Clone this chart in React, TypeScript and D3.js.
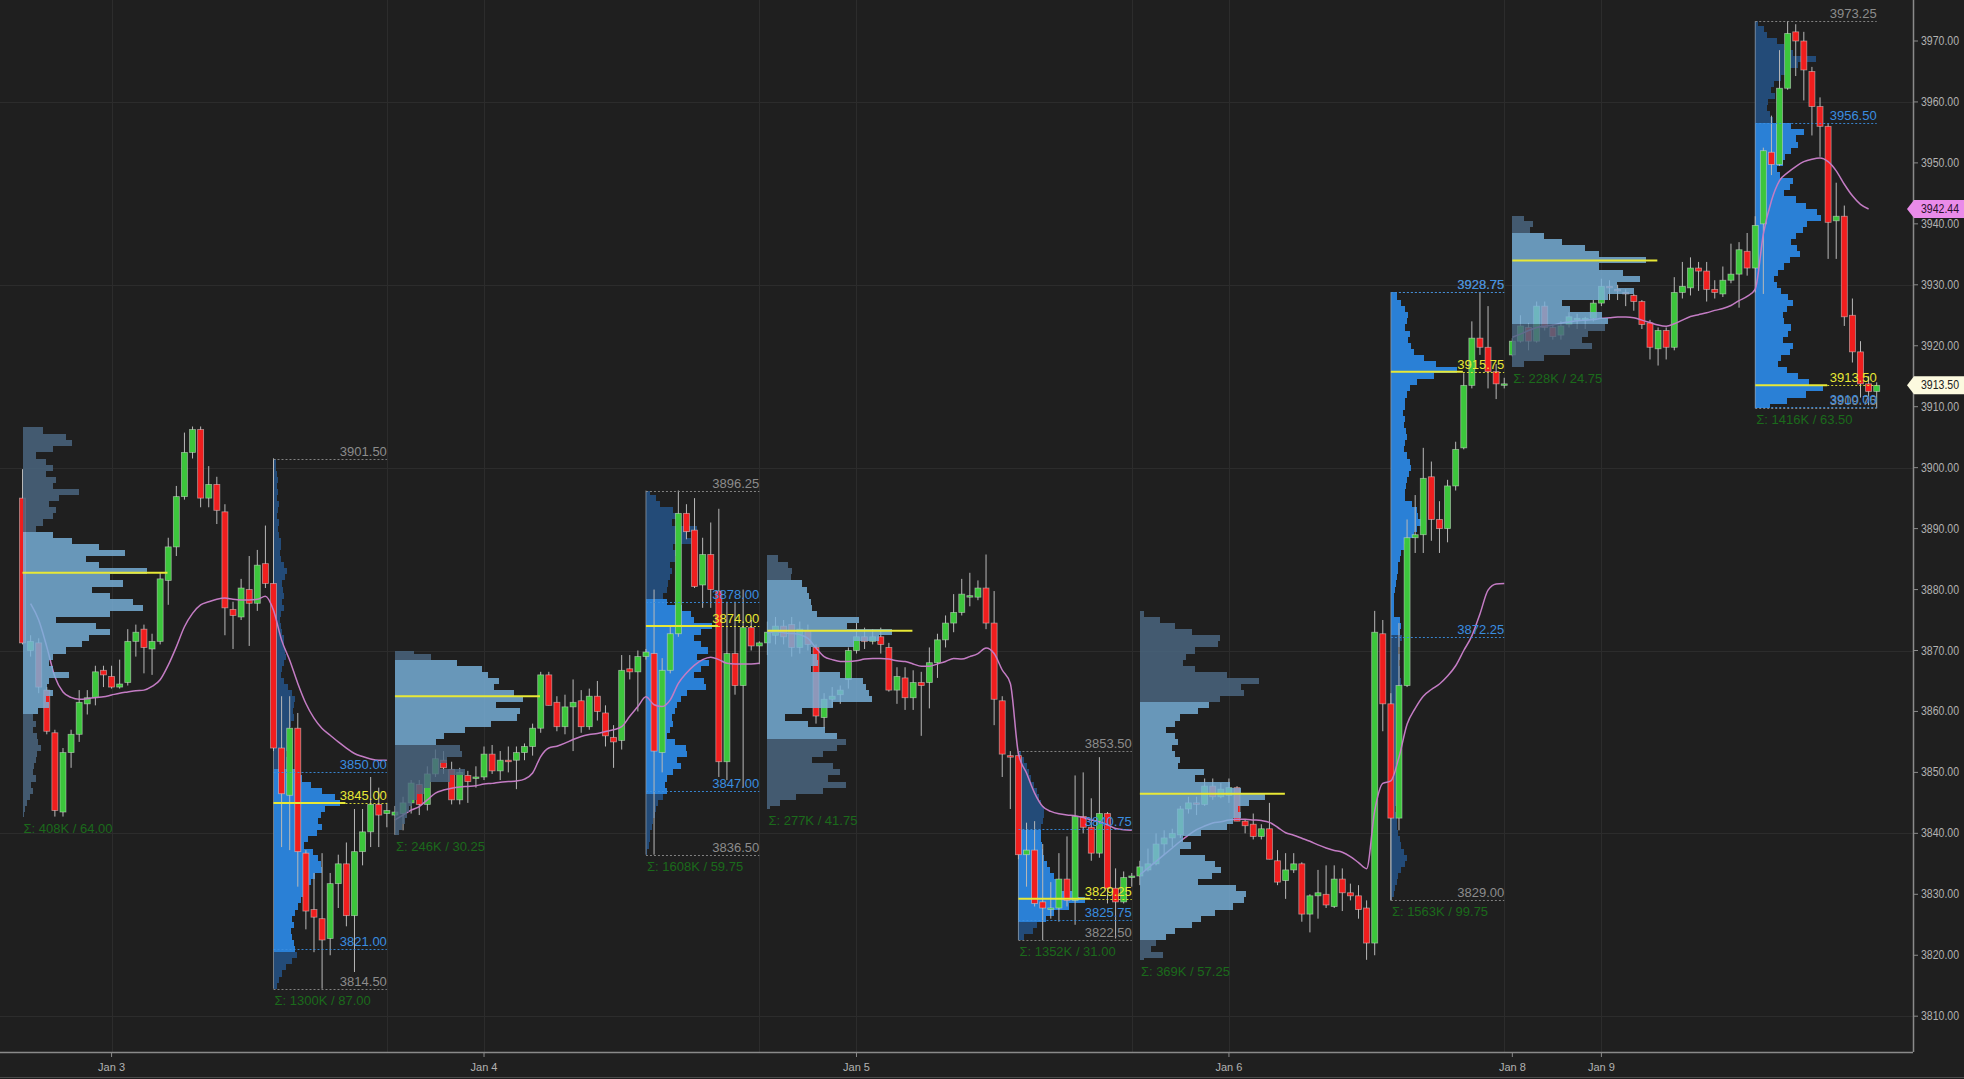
import { useEffect, useRef } from 'react'
import * as d3 from 'd3'

const W = 1964, H = 1079
const AXIS_X = 1913, AXIS_Y = 1052
const FONT = 'Liberation Sans, Arial, sans-serif'

type Bar = [number, number, number, number] // open, high, low, close

// Jan 3 (ETH bars 0-30, RTH 31-45)
const day1: Bar[] = [
  [3895.0, 3899.75, 3871.0, 3871.25], [3870.0, 3872.5, 3869.0, 3871.5], [3871.25, 3872.0, 3863.0, 3864.0],
  [3863.5, 3864.0, 3856.25, 3856.75], [3856.5, 3857.0, 3842.75, 3843.75], [3843.5, 3854.0, 3842.75, 3853.25],
  [3853.25, 3857.0, 3850.75, 3856.25], [3856.25, 3863.5, 3855.0, 3861.5], [3861.25, 3863.5, 3859.5, 3862.25],
  [3862.25, 3867.5, 3861.0, 3866.5], [3866.75, 3867.5, 3864.0, 3866.0], [3865.75, 3867.5, 3863.75, 3864.0],
  [3864.0, 3868.5, 3863.75, 3864.5], [3864.75, 3873.5, 3864.25, 3871.5], [3871.5, 3874.25, 3869.0, 3873.0],
  [3873.5, 3874.25, 3866.25, 3870.5], [3870.25, 3872.75, 3866.0, 3871.5], [3871.5, 3882.75, 3871.0, 3881.75],
  [3881.5, 3888.5, 3877.5, 3887.0], [3887.0, 3897.0, 3885.5, 3895.25], [3895.25, 3905.75, 3894.75, 3902.5],
  [3902.5, 3906.75, 3901.5, 3906.25], [3906.25, 3906.75, 3893.5, 3895.0], [3895.0, 3900.25, 3893.5, 3897.25],
  [3897.25, 3898.5, 3890.75, 3893.0], [3892.75, 3894.0, 3872.5, 3877.0], [3876.75, 3878.0, 3870.25, 3875.75],
  [3875.5, 3881.75, 3875.0, 3880.25], [3880.0, 3885.5, 3870.75, 3877.75], [3877.75, 3886.5, 3876.5, 3884.0],
  [3884.25, 3890.5, 3880.25, 3881.0], [3881.0, 3901.5, 3853.5, 3854.0], [3854.0, 3862.5, 3837.75, 3846.5],
  [3846.25, 3862.5, 3837.25, 3857.25], [3857.25, 3859.75, 3831.25, 3837.0], [3836.75, 3837.25, 3824.25, 3827.25],
  [3827.5, 3833.5, 3820.5, 3826.25], [3826.0, 3836.75, 3814.5, 3822.5], [3822.75, 3833.5, 3820.0, 3831.75],
  [3831.75, 3836.5, 3827.75, 3835.0], [3835.0, 3838.5, 3824.75, 3826.5], [3826.5, 3844.0, 3817.25, 3837.0],
  [3837.0, 3844.0, 3834.75, 3840.25], [3840.25, 3849.25, 3837.75, 3844.75], [3844.75, 3847.5, 3837.75, 3843.0],
  [3843.25, 3845.0, 3841.0, 3843.75],
]

// Jan 4 (bars 46-91)
const day2: Bar[] = [
  [3843.0, 3844.5, 3839.75, 3843.5], [3843.25, 3846.0, 3840.5, 3845.0], [3845.0, 3848.75, 3843.25, 3848.25],
  [3848.0, 3848.75, 3843.0, 3844.75], [3844.75, 3851.0, 3843.75, 3849.75], [3849.75, 3853.75, 3849.25, 3852.25],
  [3852.0, 3853.5, 3849.75, 3850.75], [3850.5, 3851.75, 3844.75, 3845.5], [3845.5, 3850.75, 3844.75, 3850.0],
  [3849.5, 3850.25, 3845.0, 3848.5], [3849.0, 3851.0, 3847.5, 3849.25], [3849.25, 3854.25, 3848.75, 3853.0],
  [3853.0, 3854.5, 3849.75, 3850.25], [3850.25, 3853.5, 3848.75, 3852.0], [3852.0, 3854.25, 3850.0, 3851.75],
  [3852.0, 3854.25, 3847.25, 3853.25], [3853.25, 3854.75, 3852.0, 3854.25], [3854.25, 3858.0, 3852.75, 3857.25],
  [3857.25, 3866.5, 3856.5, 3866.0], [3866.0, 3866.5, 3861.0, 3861.0], [3861.5, 3862.5, 3856.75, 3857.5],
  [3857.5, 3862.75, 3856.25, 3860.75], [3860.75, 3865.25, 3853.5, 3861.5], [3861.75, 3863.5, 3856.5, 3857.5],
  [3857.5, 3863.75, 3857.0, 3862.5], [3862.5, 3865.0, 3858.5, 3860.0], [3859.75, 3861.0, 3854.25, 3856.0],
  [3855.75, 3857.75, 3850.75, 3855.0], [3855.25, 3869.25, 3853.75, 3866.75], [3867.0, 3869.25, 3865.25, 3866.5],
  [3866.5, 3870.0, 3860.0, 3869.0], [3869.0, 3870.25, 3868.5, 3869.75], [3869.5, 3880.0, 3836.5, 3853.5],
  [3853.25, 3868.75, 3850.0, 3866.75], [3866.75, 3874.0, 3866.25, 3872.75], [3872.75, 3896.25, 3872.25, 3892.5],
  [3892.5, 3894.0, 3888.25, 3889.5], [3889.75, 3895.0, 3880.25, 3880.5], [3880.75, 3888.5, 3877.0, 3885.75],
  [3885.75, 3891.0, 3877.0, 3880.0], [3879.75, 3893.25, 3849.25, 3851.75], [3851.75, 3878.0, 3848.75, 3869.5],
  [3869.5, 3878.0, 3862.75, 3864.25], [3864.25, 3880.0, 3847.5, 3873.75], [3873.75, 3875.0, 3870.0, 3870.75],
  [3870.75, 3871.5, 3867.75, 3871.25],
]

// Jan 5 (bars 92-137)
const day3: Bar[] = [
  [3871.25, 3874.75, 3869.25, 3873.0], [3872.5, 3875.5, 3871.0, 3874.0], [3874.0, 3875.0, 3871.0, 3872.25],
  [3874.25, 3875.5, 3869.0, 3870.5], [3870.5, 3874.75, 3869.5, 3873.5], [3873.25, 3874.25, 3870.0, 3871.0],
  [3870.5, 3871.0, 3858.0, 3859.25], [3859.0, 3863.0, 3857.25, 3862.0], [3862.0, 3864.0, 3860.75, 3862.5],
  [3862.75, 3864.25, 3861.25, 3863.5], [3865.25, 3870.5, 3863.75, 3870.0], [3870.0, 3874.5, 3869.5, 3872.25],
  [3872.25, 3873.75, 3870.25, 3871.5], [3871.5, 3873.5, 3871.0, 3872.25], [3872.25, 3873.75, 3869.5, 3871.0],
  [3870.5, 3871.25, 3863.25, 3863.5], [3863.5, 3867.25, 3861.25, 3865.75], [3865.5, 3867.25, 3860.25, 3862.25],
  [3862.25, 3866.75, 3860.25, 3864.75], [3864.75, 3866.5, 3856.0, 3864.25], [3864.75, 3870.5, 3860.5, 3868.0],
  [3868.0, 3872.75, 3865.5, 3871.75], [3871.75, 3875.75, 3870.5, 3874.5], [3874.5, 3879.25, 3873.0, 3876.25],
  [3876.25, 3881.75, 3875.75, 3879.25], [3878.75, 3882.75, 3877.25, 3879.0], [3878.75, 3881.5, 3878.25, 3880.25],
  [3880.25, 3885.75, 3873.5, 3874.5], [3874.5, 3879.75, 3857.75, 3862.0], [3861.75, 3862.5, 3849.25, 3853.0],
  [3852.75, 3853.5, 3844.0, 3852.5], [3852.75, 3853.5, 3835.75, 3836.5], [3836.5, 3841.75, 3831.25, 3837.25],
  [3837.25, 3842.0, 3828.0, 3828.5], [3828.75, 3838.25, 3822.5, 3827.75], [3827.5, 3832.0, 3826.0, 3827.75],
  [3827.75, 3836.75, 3825.5, 3832.5], [3832.5, 3839.5, 3828.0, 3829.0], [3829.0, 3849.5, 3825.0, 3842.75],
  [3842.75, 3850.0, 3840.0, 3841.0], [3841.0, 3845.75, 3835.5, 3836.75], [3836.75, 3852.5, 3836.0, 3843.25],
  [3843.25, 3843.5, 3828.5, 3831.0], [3831.0, 3834.25, 3822.75, 3828.75], [3828.75, 3833.75, 3828.5, 3832.75],
  [3832.75, 3833.5, 3831.25, 3833.0],
]

// Jan 6 (bars 138-183)
const day4: Bar[] = [
  [3833.0, 3835.5, 3831.5, 3834.5], [3834.0, 3837.5, 3833.75, 3835.0], [3835.0, 3840.0, 3834.75, 3838.25],
  [3838.25, 3840.5, 3836.5, 3839.25], [3839.25, 3840.75, 3837.75, 3840.0], [3839.75, 3844.5, 3839.25, 3844.0],
  [3844.0, 3846.0, 3843.25, 3845.0], [3845.0, 3846.0, 3843.0, 3844.75], [3844.75, 3849.0, 3844.5, 3847.75],
  [3847.75, 3849.0, 3845.5, 3846.0], [3846.0, 3848.25, 3845.75, 3847.25], [3846.25, 3849.0, 3845.0, 3847.5],
  [3847.5, 3847.75, 3842.0, 3842.0], [3842.0, 3842.25, 3840.0, 3841.25], [3841.5, 3843.25, 3839.0, 3839.5],
  [3839.5, 3841.5, 3839.0, 3840.75], [3840.75, 3845.0, 3835.75, 3835.75], [3835.5, 3837.25, 3831.5, 3832.0],
  [3832.25, 3836.75, 3829.25, 3834.0], [3834.0, 3836.75, 3833.5, 3835.0], [3835.0, 3835.25, 3825.5, 3826.75],
  [3826.75, 3830.0, 3823.75, 3829.75], [3829.75, 3834.0, 3826.0, 3830.25], [3830.0, 3834.75, 3827.75, 3828.25],
  [3828.0, 3834.75, 3827.75, 3832.5], [3832.5, 3834.25, 3827.25, 3830.25], [3830.25, 3831.75, 3829.0, 3829.75],
  [3829.75, 3831.5, 3826.0, 3827.5], [3827.75, 3829.0, 3819.25, 3822.0], [3822.0, 3876.5, 3820.0, 3873.0],
  [3872.75, 3875.0, 3856.75, 3861.25], [3861.25, 3863.0, 3829.0, 3842.5], [3842.5, 3874.5, 3840.5, 3864.25],
  [3864.25, 3891.5, 3864.0, 3888.5], [3888.5, 3895.5, 3886.0, 3889.0], [3889.0, 3903.25, 3886.0, 3898.25],
  [3898.5, 3901.0, 3888.0, 3891.5], [3891.5, 3894.5, 3886.0, 3890.0], [3890.0, 3898.0, 3887.75, 3897.0],
  [3897.0, 3904.25, 3896.25, 3903.0], [3903.25, 3915.5, 3903.0, 3913.5], [3913.5, 3924.0, 3913.0, 3921.25],
  [3921.25, 3928.75, 3918.5, 3919.75], [3919.75, 3926.5, 3913.0, 3915.75], [3915.75, 3917.0, 3911.25, 3913.75],
  [3913.75, 3914.75, 3913.0, 3913.75],
]

// Jan 8 evening / Jan 9 (bars 184-229)
const day5: Bar[] = [
  [3918.5, 3921.25, 3918.25, 3920.75], [3920.75, 3925.0, 3920.5, 3923.25], [3923.0, 3923.75, 3919.25, 3920.75],
  [3920.75, 3927.25, 3920.5, 3926.5], [3926.5, 3927.25, 3922.5, 3923.0], [3923.0, 3923.5, 3921.0, 3921.5],
  [3921.75, 3924.0, 3921.0, 3923.25], [3923.5, 3925.5, 3923.0, 3924.75], [3924.5, 3925.25, 3922.75, 3924.5],
  [3924.5, 3924.75, 3922.75, 3924.5], [3924.5, 3927.5, 3924.0, 3927.0], [3927.0, 3931.0, 3926.5, 3929.75],
  [3929.75, 3930.75, 3927.5, 3929.5], [3929.25, 3930.0, 3927.5, 3929.0], [3928.75, 3929.25, 3926.5, 3928.5],
  [3928.25, 3928.5, 3925.75, 3927.25], [3927.25, 3927.5, 3922.75, 3923.5], [3923.75, 3924.25, 3917.75, 3919.75],
  [3919.5, 3923.0, 3916.75, 3922.5], [3922.5, 3923.0, 3917.75, 3919.75], [3919.75, 3931.25, 3919.25, 3928.75],
  [3928.75, 3933.75, 3927.75, 3929.75], [3929.5, 3934.5, 3928.25, 3932.75], [3932.75, 3933.75, 3929.0, 3932.25],
  [3932.25, 3933.75, 3927.25, 3929.25], [3929.25, 3930.75, 3927.75, 3928.75], [3928.5, 3933.0, 3928.0, 3930.75],
  [3930.75, 3936.75, 3930.25, 3931.75], [3931.75, 3937.0, 3926.25, 3935.75], [3935.5, 3938.5, 3931.5, 3932.75],
  [3932.75, 3941.25, 3928.75, 3939.75], [3940.0, 3952.5, 3928.5, 3952.0], [3951.75, 3957.75, 3948.0, 3949.75],
  [3949.75, 3968.5, 3949.5, 3962.25], [3962.25, 3973.25, 3962.0, 3971.25], [3971.5, 3972.75, 3964.25, 3970.0],
  [3970.0, 3971.5, 3960.25, 3965.25], [3965.0, 3965.75, 3954.5, 3959.25], [3959.25, 3960.75, 3951.0, 3956.0],
  [3956.0, 3956.5, 3934.25, 3940.25], [3940.5, 3946.75, 3934.25, 3941.25], [3941.25, 3943.0, 3923.25, 3924.75],
  [3925.0, 3927.75, 3917.25, 3919.0], [3919.0, 3920.75, 3911.5, 3913.75], [3913.75, 3915.0, 3910.25, 3912.5],
  [3912.5, 3914.0, 3909.75, 3913.5],
]

// daily VWAP, one value per bar
const vwap1 = [null, 3877.7, 3875, 3870.6, 3865.7, 3863.2, 3862.3, 3862, 3862.1, 3862.3, 3862.4, 3862.7, 3863, 3863.2, 3863.4, 3863.5, 3864.1, 3865.2, 3867.6, 3870.6, 3873.9, 3876.1, 3877.5, 3878, 3878.4, 3878.6, 3878.4, 3878.3, 3878.3, 3878.4, 3878.9, 3876.6, 3871.7, 3868.4, 3864.6, 3861.3, 3858.9, 3857.2, 3856.1, 3855, 3854, 3853.1, 3852.6, 3852.2, 3852, 3852]
const vwap2 = [3842.2, 3843, 3843.8, 3844.4, 3845.5, 3846.6, 3847.1, 3847.4, 3847.6, 3847.7, 3847.8, 3848.1, 3848.2, 3848.4, 3848.5, 3848.6, 3848.9, 3849.9, 3852.6, 3854, 3854.3, 3854.8, 3855.4, 3855.9, 3856.2, 3856.4, 3856.7, 3857, 3857.5, 3859.2, 3860.8, 3862.4, 3861.1, 3860.8, 3861.9, 3864.6, 3866.3, 3867.6, 3868.5, 3868.9, 3868.5, 3867.9, 3867.8, 3867.8, 3867.8, 3867.9]
const vwap3 = [3872.8, 3873.1, 3872.9, 3872.8, 3872.6, 3872, 3870.4, 3869, 3868.5, 3868.2, 3868.2, 3868.3, 3868.6, 3868.7, 3868.7, 3868.6, 3868.3, 3868.2, 3867.8, 3867.4, 3867.4, 3867.8, 3868.2, 3868.7, 3868.6, 3869, 3869.5, 3870.4, 3869.5, 3866.8, 3864.6, 3853.1, 3849.9, 3846.6, 3844.4, 3843.6, 3843.2, 3843, 3842.9, 3842.6, 3842.2, 3841.9, 3841.4, 3840.8, 3840.6, 3840.5]
const vwap4 = [3833.2, 3834.3, 3835.4, 3836.5, 3837.6, 3838.7, 3839.7, 3840.6, 3841.2, 3841.7, 3841.9, 3842.2, 3842.3, 3842.3, 3842.2, 3842.1, 3841.8, 3841, 3840.1, 3839.7, 3839.2, 3838.7, 3838.1, 3837.6, 3837.2, 3836.9, 3836.2, 3835.2, 3834.2, 3843.7, 3848.2, 3848.6, 3852.5, 3857.9, 3860.5, 3862.5, 3863.6, 3864.5, 3865.8, 3867.5, 3870, 3872.4, 3876, 3879.9, 3880.9, 3881]
const vwap5 = [3921.4, 3921.9, 3922.5, 3923, 3923.2, 3923.4, 3923.7, 3923.9, 3924.1, 3924.2, 3924.3, 3924.5, 3924.6, 3924.7, 3924.7, 3924.6, 3924.2, 3923.8, 3923.4, 3923.2, 3923.6, 3924.2, 3924.8, 3925.1, 3925.4, 3925.8, 3926.1, 3926.6, 3927.4, 3928.1, 3929.3, 3938.3, 3943.8, 3947.1, 3948.4, 3949.4, 3950.2, 3950.6, 3950.8, 3950.2, 3948.7, 3946.5, 3944.6, 3943.2, 3942.44, null]

// volume profile rows, one per point from the session high down (relative volume)
const eth1Vol = [14, 30, 34, 21, 9, 16, 21, 16, 23, 21, 39, 25, 18, 23, 21, 14, 9, 21, 34, 53, 71, 44, 53, 86, 60, 69, 48, 60, 76, 83, 60, 23, 51, 60, 46, 41, 30, 21, 18, 21, 32, 18, 17, 21, 16, 18, 11, 7, 9, 7, 10, 11, 13, 10, 9, 8, 7, 9, 6, 7, 5, 3, 2, 1]
const rth1Vol = [3, 4, 5, 6, 5, 6, 5, 7, 6, 5, 7, 6, 8, 10, 11, 9, 10, 14, 19, 16, 12, 13, 15, 12, 14, 11, 9, 10, 12, 15, 14, 16, 18, 14, 12, 10, 14, 20, 26, 30, 28, 27, 29, 24, 22, 25, 23, 20, 18, 22, 26, 30, 40, 52, 68, 85, 92, 72, 66, 62, 68, 60, 48, 42, 55, 62, 66, 68, 58, 52, 46, 42, 38, 34, 30, 26, 28, 24, 26, 28, 30, 33, 26, 18, 12, 8, 5]
const eth2Vol = [13, 25, 43, 60, 64, 72, 68, 82, 88, 70, 86, 84, 66, 48, 34, 28, 45, 46, 36, 31, 48, 38, 24, 20, 15, 12, 10, 8, 7, 5, 3]
const rth2Vol = [5, 14, 19, 38, 43, 36, 71, 55, 62, 38, 43, 40, 33, 36, 33, 30, 29, 24, 29, 50, 62, 67, 92, 76, 67, 76, 86, 71, 88, 76, 67, 81, 84, 57, 48, 43, 40, 36, 38, 33, 29, 40, 55, 57, 43, 48, 38, 29, 26, 29, 24, 17, 14, 12, 10, 8, 6, 5, 4, 2]
const eth3Vol = [7, 14, 17, 16, 24, 27, 29, 30, 31, 34, 63, 55, 86, 77, 60, 30, 34, 35, 30, 50, 66, 68, 70, 72, 45, 24, 12, 28, 40, 48, 54, 48, 38, 31, 45, 50, 42, 54, 38, 20, 9, 2]
const rth3Vol = [3, 8, 12, 14, 18, 22, 26, 28, 32, 35, 36, 34, 31, 32, 31, 33, 34, 36, 40, 44, 50, 55, 57, 78, 92, 70, 50, 38, 26, 20, 8]
const eth4Vol = [3, 14, 24, 36, 55, 54, 38, 32, 30, 38, 60, 82, 70, 72, 55, 48, 40, 28, 24, 18, 24, 26, 22, 24, 28, 26, 44, 38, 62, 70, 86, 75, 68, 70, 64, 60, 42, 30, 35, 28, 45, 52, 56, 50, 40, 66, 73, 72, 64, 52, 42, 36, 24, 18, 11, 8, 16, 3]
const rth4Vol = [8, 14, 20, 24, 22, 20, 26, 24, 28, 32, 46, 62, 92, 60, 36, 26, 22, 20, 19, 17, 20, 18, 21, 23, 20, 18, 22, 27, 28, 25, 23, 21, 20, 19, 30, 36, 38, 42, 36, 32, 24, 18, 14, 12, 10, 10, 8, 7, 6, 5, 5, 4, 4, 12, 14, 13, 15, 12, 10, 12, 11, 13, 12, 14, 15, 13, 12, 14, 12, 10, 11, 12, 13, 10, 9, 8, 9, 10, 11, 9, 8, 7, 8, 7, 6, 7, 8, 9, 10, 12, 14, 18, 22, 20, 14, 10, 8, 6, 4, 2]
const eth5Vol = [8, 14, 12, 22, 34, 50, 60, 92, 60, 76, 88, 72, 84, 66, 34, 40, 62, 66, 64, 52, 48, 55, 40, 22, 8]
const rth5Vol = [4, 12, 16, 30, 40, 52, 84, 60, 44, 36, 26, 22, 28, 18, 16, 20, 24, 50, 68, 56, 60, 50, 42, 38, 30, 34, 52, 48, 40, 56, 70, 86, 92, 72, 66, 56, 50, 58, 62, 48, 40, 32, 26, 30, 36, 46, 52, 44, 38, 40, 50, 46, 38, 52, 48, 36, 32, 44, 60, 74, 94, 70, 44, 20]

const profileKind = ['eth', 'rth', 'eth', 'rth', 'eth', 'rth', 'eth', 'rth', 'eth', 'rth']
const profileFrom = [0, 31, 46, 77, 92, 123, 138, 169, 184, 214]
const profileTo = [30, 45, 76, 91, 122, 137, 168, 183, 213, 229]
const profileHigh = [3906.75, 3901.5, 3870.0, 3896.25, 3885.75, 3853.5, 3876.5, 3928.75, 3941.25, 3973.25]
const profileLow = [3842.75, 3814.5, 3839.75, 3836.5, 3844.0, 3822.5, 3819.25, 3829.0, 3916.5, 3909.75]
const profilePoc = [3882.75, 3845.0, 3862.5, 3874.0, 3873.25, 3829.25, 3846.5, 3915.75, 3934.0, 3913.5]
const profileVah = [3889.75, 3850.0, 3868.75, 3878.0, 3881.0, 3840.75, 3861.5, 3928.75, 3938.0, 3956.5]
const profileVal = [3859.75, 3821.0, 3854.25, 3847.0, 3855.75, 3825.75, 3822.75, 3872.25, 3923.75, 3910.0]
const profileTotal = ['408K', '1300K', '246K', '1608K', '277K', '1352K', '369K', '1563K', '228K', '1416K']
const profileVols = [eth1Vol, rth1Vol, eth2Vol, rth2Vol, eth3Vol, rth3Vol, eth4Vol, rth4Vol, eth5Vol, rth5Vol]

const priceTicks = d3.range(3810, 3971, 10)
const gridPrices = [3810, 3840, 3870, 3900, 3930, 3960]
const dateTicks = [
  { bar: 11, label: 'Jan 3' }, { bar: 57, label: 'Jan 4' }, { bar: 103, label: 'Jan 5' },
  { bar: 149, label: 'Jan 6' }, { bar: 184, label: 'Jan 8' }, { bar: 195, label: 'Jan 9' },
]
const gridBars = [11, 45, 57, 91, 103, 137, 149, 183, 195]
const vwapLast = 3942.44
const lastPrice = 3913.5

const C = {
  bg: '#1f1f1f', grid: '#2c2c2c', axis: '#8a8a8a', tick: '#b2b2b2',
  up: '#3cc63c', down: '#f01e1e', wick: '#b8b8b8',
  vwap: '#c47cc4', poc: '#e8e836', vaLine: '#3a8ee0', hiLo: '#8c8c8c', total: '#1b6a1b',
  ethVa: '#79b2db', ethOut: '#4b6882', rthVa: '#2a80d6', rthOut: '#234b78',
}

export default function App() {
  const ref = useRef<SVGSVGElement>(null)

  useEffect(() => {
    document.body.style.margin = '0'
    document.body.style.background = C.bg
    const svg = d3.select(ref.current!)
    svg.selectAll('*').remove()

    const bars = [...day1, ...day2, ...day3, ...day4, ...day5]
    const vwaps = [vwap1, vwap2, vwap3, vwap4, vwap5]
    const x = d3.scaleLinear().domain([0, 229]).range([22.5, 1876.7])
    const y = d3.scaleLinear().domain([3810, 3970]).range([1016.2, 41])
    const ethW = d3.scaleLinear().domain([0, 100]).range([0, 145])
    const rthW = d3.scaleLinear().domain([0, 100]).range([0, 72])

    const profiles = profileKind.map((kind, i) => ({
      kind, from: profileFrom[i], to: profileTo[i], high: profileHigh[i], low: profileLow[i],
      poc: profilePoc[i], vah: profileVah[i], val: profileVal[i], total: profileTotal[i], vols: profileVols[i],
    }))

    svg.append('rect').attr('width', W).attr('height', H).attr('fill', C.bg)

    // grid
    const grid = svg.append('g').attr('stroke', C.grid).attr('stroke-width', 1)
    gridPrices.forEach(p => grid.append('line').attr('x1', 0).attr('x2', AXIS_X)
      .attr('y1', Math.round(y(p)) + 0.5).attr('y2', Math.round(y(p)) + 0.5))
    gridBars.forEach(b => grid.append('line').attr('y1', 0).attr('y2', AXIS_Y)
      .attr('x1', Math.round(x(b)) + 0.5).attr('x2', Math.round(x(b)) + 0.5))

    const drawProfile = (g: d3.Selection<SVGGElement, unknown, null, undefined>, p: typeof profiles[number]) => {
      const wScale = p.kind === 'eth' ? ethW : rthW
      const top = Math.floor(p.high)
      const x0 = x(p.from)
      p.vols.forEach((v, i) => {
        const price = top - i
        const y0 = i === 0 ? y(p.high) : y(price + 0.5)
        const y1 = i === p.vols.length - 1 ? y(p.low) : y(price - 0.5)
        const inVa = price <= p.vah && price >= p.val
        const fill = p.kind === 'eth' ? (inVa ? C.ethVa : C.ethOut) : (inVa ? C.rthVa : C.rthOut)
        g.append('rect').attr('x', x0).attr('y', y0).attr('width', wScale(v)).attr('height', Math.max(0.5, y1 - y0))
          .attr('fill', fill).attr('shape-rendering', 'crispEdges')
      })
    }

    // RTH profiles sit under the candles
    const rthG = svg.append('g')
    profiles.filter(p => p.kind === 'rth').forEach(p => {
      drawProfile(rthG, p)
      rthG.append('line').attr('x1', x(p.from)).attr('x2', x(p.from)).attr('y1', y(p.high)).attr('y2', y(p.low))
        .attr('stroke', '#9aa4ae').attr('stroke-opacity', 0.7).attr('stroke-width', 1)
    })

    // candles
    const cg = svg.append('g')
    bars.forEach(([o, h, l, c], i) => {
      const cx = x(i)
      cg.append('line').attr('x1', cx).attr('x2', cx).attr('y1', y(h)).attr('y2', y(l))
        .attr('stroke', C.wick).attr('stroke-width', 1)
      const yt = y(Math.max(o, c)), yb = y(Math.min(o, c))
      cg.append('rect').attr('x', cx - 3).attr('width', 6).attr('y', yt).attr('height', Math.max(1.5, yb - yt))
        .attr('fill', c >= o ? C.up : C.down).attr('stroke', 'rgba(225,225,225,0.55)').attr('stroke-width', 0.8)
    })

    // daily VWAP, restarting each trading day
    let offset = 0
    vwaps.forEach(vals => {
      const start = offset
      const path = d3.line<number | null>()
        .defined(d => d != null)
        .x((_, i) => x(start + i))
        .y(d => y(d as number))
        .curve(d3.curveMonotoneX)
      svg.append('path').datum(vals).attr('d', path).attr('fill', 'none')
        .attr('stroke', C.vwap).attr('stroke-width', 1.5)
      offset += vals.length
    })

    // ETH profiles drawn over the candles, semi-transparent
    const ethG = svg.append('g').attr('opacity', 0.82)
    profiles.filter(p => p.kind === 'eth').forEach(p => drawProfile(ethG, p))

    // POC lines, ranges and labels
    const lg = svg.append('g').attr('font-family', FONT).attr('font-size', 13)
    profiles.forEach(p => {
      const x0 = x(p.from), x1 = x(p.to)
      const pocLen = p.kind === 'eth' ? ethW(100) : rthW(100)
      lg.append('line').attr('x1', x0).attr('x2', x0 + pocLen).attr('y1', y(p.poc)).attr('y2', y(p.poc))
        .attr('stroke', C.poc).attr('stroke-width', 2)
      if (p.kind === 'rth') {
        const marks = [
          { v: p.high, color: C.hiLo }, { v: p.low, color: C.hiLo },
          { v: p.vah, color: C.vaLine }, { v: p.val, color: C.vaLine }, { v: p.poc, color: C.poc },
        ]
        marks.forEach(m => {
          const ly = Math.round(y(m.v)) + 0.5
          lg.append('line').attr('x1', m.color === C.poc ? x0 + pocLen : x0).attr('x2', x1)
            .attr('y1', ly).attr('y2', ly).attr('stroke', m.color).attr('stroke-width', 1)
            .attr('stroke-dasharray', '2,2').attr('opacity', 0.9)
          lg.append('text').attr('x', x1).attr('y', ly - 4).attr('text-anchor', 'end')
            .attr('fill', m.color).text(m.v.toFixed(2))
        })
      }
      lg.append('text').attr('x', x0 + 1).attr('y', y(p.low) + 16).attr('fill', C.total)
        .text(`Σ: ${p.total} / ${(p.high - p.low).toFixed(2)}`)
    })

    // price axis (labels squeezed to fit the narrow strip)
    const ax = svg.append('g').attr('font-family', FONT).attr('font-size', 12)
    ax.append('line').attr('x1', AXIS_X + 0.5).attr('x2', AXIS_X + 0.5).attr('y1', 0).attr('y2', AXIS_Y)
      .attr('stroke', C.axis).attr('stroke-width', 1.5)
    priceTicks.forEach(p => {
      ax.append('line').attr('x1', AXIS_X).attr('x2', AXIS_X + 5).attr('y1', y(p)).attr('y2', y(p)).attr('stroke', C.axis)
      ax.append('text').attr('x', AXIS_X + 8).attr('y', y(p)).attr('dominant-baseline', 'central')
        .attr('textLength', 38).attr('lengthAdjust', 'spacingAndGlyphs')
        .attr('fill', C.tick).text(p.toFixed(2))
    })
    const tags = [
      { v: vwapLast, fill: '#e98be9', text: '#2a102a' },
      { v: lastPrice, fill: '#fcfadf', text: '#202020' },
    ]
    tags.forEach(t => {
      const ty = y(t.v)
      ax.append('path').attr('d', `M${AXIS_X - 6},${ty} L${AXIS_X + 1},${ty - 9} L${W},${ty - 9} L${W},${ty + 9} L${AXIS_X + 1},${ty + 9} Z`)
        .attr('fill', t.fill)
      ax.append('text').attr('x', AXIS_X + 8).attr('y', ty).attr('dominant-baseline', 'central')
        .attr('textLength', 38).attr('lengthAdjust', 'spacingAndGlyphs')
        .attr('fill', t.text).text(t.v.toFixed(2))
    })

    // time axis
    const bx = svg.append('g').attr('font-family', FONT).attr('font-size', 11)
    bx.append('line').attr('x1', 0).attr('x2', AXIS_X).attr('y1', AXIS_Y + 0.5).attr('y2', AXIS_Y + 0.5)
      .attr('stroke', C.axis).attr('stroke-width', 1.5)
    dateTicks.forEach(d => {
      bx.append('line').attr('x1', x(d.bar)).attr('x2', x(d.bar)).attr('y1', AXIS_Y).attr('y2', AXIS_Y + 5).attr('stroke', C.axis)
      bx.append('text').attr('x', x(d.bar)).attr('y', AXIS_Y + 19).attr('text-anchor', 'middle')
        .attr('fill', C.tick).text(d.label)
    })
    bx.append('line').attr('x1', 0).attr('x2', W).attr('y1', H - 1.5).attr('y2', H - 1.5).attr('stroke', '#4a4a4a')
  }, [])

  return <svg ref={ref} width={W} height={H} style={{ display: 'block' }} viewBox={`0 0 ${W} ${H}`} />
}
